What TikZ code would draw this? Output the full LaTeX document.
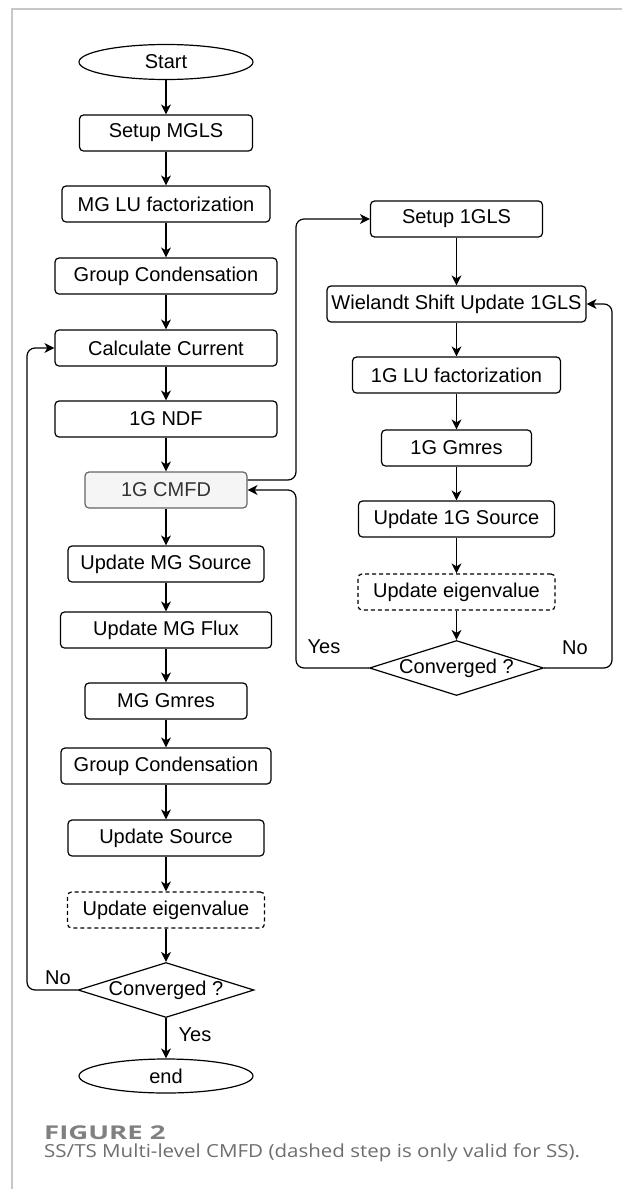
\documentclass[tikz,border=0pt]{standalone}
\usepackage{fontspec}
\setmainfont{Liberation Sans}
\newfontfamily\capfont[FakeStretch=1.14]{Open Sans}
\newfontfamily\figfont[FakeStretch=1.45]{Open Sans}
\usetikzlibrary{shapes.geometric,arrows.meta,calc}
\definecolor{framegray}{HTML}{C8C8C8}
\definecolor{figgray}{HTML}{808080}
\definecolor{capgray}{HTML}{6E6E6E}
\definecolor{cmfdfill}{HTML}{F5F5F5}
\definecolor{cmfdline}{HTML}{666666}
\definecolor{cmfdtext}{HTML}{333333}
\begin{document}
\begin{tikzpicture}[x=1pt,y=-1pt,
  every node/.style={font=\fontsize{20}{24}\selectfont},
  box/.style={draw, rounded corners=4pt, line width=1.2pt, minimum height=36pt, inner sep=0pt},
  dbox/.style={box, dash pattern=on 4pt off 3pt},
  oval/.style={draw, ellipse, line width=1.2pt, minimum width=174pt, minimum height=35pt, inner sep=0pt},
  diam/.style={draw, diamond, line width=1.2pt, minimum width=176pt, minimum height=55pt, inner sep=0pt, aspect=3.2},
  arr/.style={line width=1.2pt, -{Stealth[length=10pt,width=10pt,inset=3pt]}},
  conn/.style={arr, rounded corners=8pt},
  lbl/.style={inner sep=0pt}
]
\useasboundingbox (0,0) rectangle (622,1189);
% frame
\draw[framegray, line width=1.5pt] (622,9) -- (12,9) -- (12,1189);

% left column
\node[oval] (start) at (166,62) {Start};
\node[box, minimum width=173pt] (setupmg) at (166,133) {Setup MGLS};
\node[box, minimum width=208pt] (mglu) at (166,204) {MG LU factorization};
\node[box, minimum width=222pt] (gc1) at (166,276) {Group Condensation};
\node[box, minimum width=222pt] (cc) at (166,348) {Calculate Current};
\node[box, minimum width=222pt] (ndf) at (166,419) {1G NDF};
\node[box, minimum width=162pt, draw=cmfdline, fill=cmfdfill, text=cmfdtext] (cmfd) at (166,490) {1G CMFD};
\node[box, minimum width=196pt] (ums) at (166,564) {Update MG Source};
\node[box, minimum width=211pt] (umf) at (166,630) {Update MG Flux};
\node[box, minimum width=162pt] (mgg) at (166,701) {MG Gmres};
\node[box, minimum width=210pt] (gc2) at (166,766) {Group Condensation};
\node[box, minimum width=196pt] (us) at (166,838) {Update Source};
\node[dbox, minimum width=197pt] (ue) at (166,910) {Update eigenvalue};
\node[diam, label={center:Converged ?}] (conv) at (166,990) {};
\node[oval, minimum height=34pt] (end) at (166,1076) {end};

% right column
\node[box, minimum width=172pt] (s1g) at (456.5,219) {Setup 1GLS};
\node[box, minimum width=259pt] (wie) at (456.5,304) {Wielandt Shift Update 1GLS};
\node[box, minimum width=208pt] (lu1) at (456.5,375) {1G LU factorization};
\node[box, minimum width=150pt] (g1) at (456.5,448) {1G Gmres};
\node[box, minimum width=196pt] (u1s) at (456.5,519) {Update 1G Source};
\node[dbox, minimum width=197pt] (ue1) at (456.5,592) {Update eigenvalue};
\node[diam, minimum width=174pt, label={center:Converged ?}] (conv1) at (456.5,668) {};

% helper coordinates
\coordinate (lx) at (27,0);
\coordinate (rx) at (296,0);
\coordinate (fx) at (612,0);
\coordinate (cmfdout) at ([yshift=10pt]cmfd.east);

% left verticals
\draw[arr] (start) -- (setupmg);
\draw[arr] (setupmg) -- (mglu);
\draw[arr] (mglu) -- (gc1);
\draw[arr] (gc1) -- (cc);
\draw[arr] (cc) -- (ndf);
\draw[arr] (ndf) -- (cmfd);
\draw[arr] (cmfd) -- (ums);
\draw[arr] (ums) -- (umf);
\draw[arr] (umf) -- (mgg);
\draw[arr] (mgg) -- (gc2);
\draw[arr] (gc2) -- (us);
\draw[arr] (us) -- (ue);
\draw[arr] (ue) -- (conv);
\draw[arr] (conv) -- (end);

% right verticals
\draw[arr] (s1g) -- (wie);
\draw[arr] (wie) -- (lu1);
\draw[arr] (lu1) -- (g1);
\draw[arr] (g1) -- (u1s);
\draw[arr] (u1s) -- (ue1);
\draw[arr] (ue1) -- (conv1);

% loops
\draw[conn] (conv.west) -- (conv.west -| lx) -- (cc.west -| lx) -- (cc.west);
\draw[conn] (cmfdout) -- (cmfdout -| rx) -- (s1g.west -| rx) -- (s1g.west);
\draw[conn] (conv1.west) -- (conv1.west -| rx) -- (cmfd.east -| rx) -- (cmfd.east);
\draw[conn] (conv1.east) -- (conv1.east -| fx) -- (wie.east -| fx) -- (wie.east);

% labels
\node[lbl] (no1) at (58,978) {No};
\node[lbl] (yes1) at (195,1035) {Yes};
\node[lbl] (yes2) at (324,647) {Yes};
\node[lbl] (no2) at (575,648) {No};

% caption
\node[lbl, anchor=west, text=figgray, font=\figfont\bfseries\fontsize{19}{22}\selectfont] (figlbl) at (44,1133) {FIGURE 2};
\node[lbl, anchor=west, text=capgray, font=\capfont\fontsize{18}{22}\selectfont] (caption) at (44,1153) {SS/TS Multi-level CMFD (dashed step is only valid for SS).};
\end{tikzpicture}
\end{document}
